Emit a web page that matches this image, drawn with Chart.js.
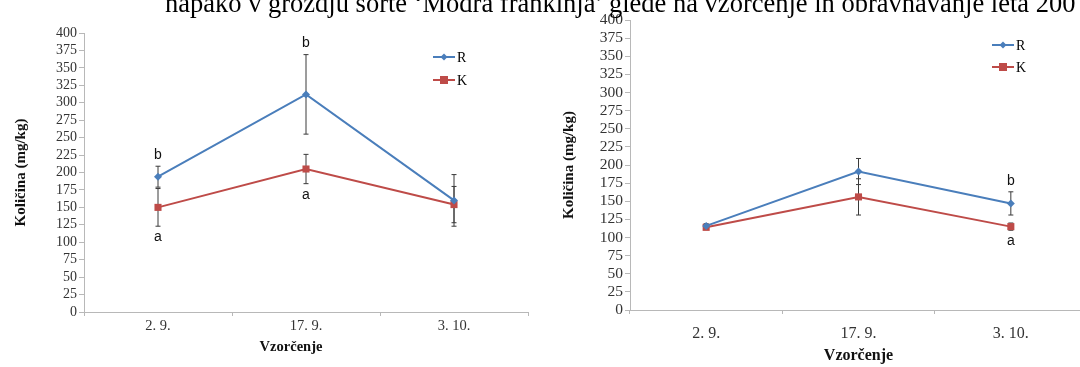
<!DOCTYPE html>
<html>
<head>
<meta charset="utf-8">
<script src="https://cdn.jsdelivr.net/npm/chart.js@4.4.1/dist/chart.umd.min.js"></script>
<style>
  html, body { margin: 0; padding: 0; background: #fff; }
  #wrap { position: relative; width: 1080px; height: 367px; overflow: hidden; background: #fff; }
  .panel { position: absolute; top: 0; height: 367px; overflow: hidden; }
  #panelA { left: 0; width: 540px; }
  #panelB { left: 540px; width: 540px; }
  #caption {
    position: absolute; left: 165px; top: -10px; z-index: 2;
    font-family: "Liberation Serif", "Times New Roman", serif;
    font-size: 26.5px; line-height: 26.5px; color: #000; white-space: nowrap;
  }
</style>
</head>
<body>
<div id="wrap">
  <div id="caption">napako v grozdju sorte ‘Modra frankinja’ glede na vzorčenje in obravnavanje leta 200</div>
  <div class="panel" id="panelA"><canvas id="chartA" width="540" height="367"></canvas></div>
  <div class="panel" id="panelB"><canvas id="chartB" width="552" height="367"></canvas></div>
</div>
<script>
// Sampling dates
const categories = ['2. 9.', '17. 9.', '3. 10.'];
const yTicks = { min: 0, max: 400, step: 25 };
const xAxisName = 'Vzorčenje';
const yAxisName = 'Količina (mg/kg)';

// Left panel: means, standard errors and significance letters
const rLeft = [194, 312, 160];
const kLeft = [150, 205, 154];
const rLeftErr = [15, 57, 37];
const kLeftErr = [27, 21, 26];
const rLeftLetters = ['b', 'b', ''];
const kLeftLetters = ['a', 'a', ''];

// Right panel
const rRight = [116, 191, 147];
const kRight = [114, 156, 115];
const rRightErr = [3, 18, 16];
const kRightErr = [3, 25, 5];
const rRightLetters = ['', '', 'b'];
const kRightLetters = ['', '', 'a'];

const BLUE = '#4a7ebb';
const RED = '#be4b48';
const SERIF = '"Liberation Serif", "Times New Roman", serif';
const AXIS = '#b8b8b8';

// Vertical error bars with caps, drawn beneath the lines and markers
const errorBars = {
  id: 'errorBars',
  beforeDatasetsDraw(chart) {
    const ctx = chart.ctx, y = chart.scales.y;
    ctx.save();
    ctx.strokeStyle = '#3a3a3a';
    ctx.lineWidth = 1;
    chart.data.datasets.forEach((ds, i) => {
      const meta = chart.getDatasetMeta(i);
      ds.errors.forEach((e, j) => {
        const x = meta.data[j].x;
        const top = y.getPixelForValue(ds.data[j] + e);
        const bot = y.getPixelForValue(ds.data[j] - e);
        ctx.beginPath();
        ctx.moveTo(x, top); ctx.lineTo(x, bot);
        ctx.moveTo(x - 2.5, top); ctx.lineTo(x + 2.5, top);
        ctx.moveTo(x - 2.5, bot); ctx.lineTo(x + 2.5, bot);
        ctx.stroke();
      });
    });
    ctx.restore();
  },
  // significance letters above (R) or below (K) the error bars
  afterDatasetsDraw(chart) {
    const ctx = chart.ctx, y = chart.scales.y;
    ctx.save();
    ctx.fillStyle = '#111';
    ctx.font = '14px "Liberation Sans", Arial, sans-serif';
    ctx.textAlign = 'center';
    ctx.textBaseline = 'middle';
    chart.data.datasets.forEach((ds, i) => {
      const meta = chart.getDatasetMeta(i);
      ds.letters.forEach((t, j) => {
        if (!t) return;
        const x = meta.data[j].x;
        if (ds.letterPos === 'above') {
          ctx.fillText(t, x, y.getPixelForValue(ds.data[j] + ds.errors[j]) - 11);
        } else {
          ctx.fillText(t, x, y.getPixelForValue(ds.data[j] - ds.errors[j]) + 11);
        }
      });
    });
    ctx.restore();
  }
};

// Bottom axis name, placed under the plot with a small horizontal shift
const axisName = {
  id: 'axisName',
  afterDraw(chart) {
    const o = chart.options.plugins.axisName;
    const a = chart.chartArea;
    const ctx = chart.ctx;
    ctx.save();
    ctx.fillStyle = '#111';
    ctx.font = 'bold ' + o.size + 'px ' + SERIF;
    ctx.textAlign = 'center';
    ctx.textBaseline = 'middle';
    ctx.fillText(o.text, (a.left + a.right) / 2 + o.dx, o.y);
    ctx.restore();
  }
};

// Legend entries as a short line with the series marker, then the name
const lineLegend = {
  id: 'lineLegend',
  afterDraw(chart) {
    const o = chart.options.plugins.lineLegend;
    const ctx = chart.ctx;
    ctx.save();
    chart.data.datasets.forEach((ds, i) => {
      const y = o.y + i * o.gap;
      ctx.strokeStyle = ds.borderColor;
      ctx.lineWidth = 2;
      ctx.beginPath();
      ctx.moveTo(o.x, y); ctx.lineTo(o.x + 22, y);
      ctx.stroke();
      ctx.fillStyle = ds.borderColor;
      const cx = o.x + 11;
      if (ds.pointStyle === 'rect') {
        ctx.fillRect(cx - 4, y - 4, 8, 8);
      } else {
        ctx.beginPath();
        ctx.moveTo(cx, y - 3.5); ctx.lineTo(cx + 3.5, y);
        ctx.lineTo(cx, y + 3.5); ctx.lineTo(cx - 3.5, y);
        ctx.closePath(); ctx.fill();
      }
      ctx.fillStyle = '#000';
      ctx.font = o.size + 'px ' + SERIF;
      ctx.textAlign = 'left';
      ctx.textBaseline = 'middle';
      ctx.fillText(ds.label, o.x + 24, y + 1);
    });
    ctx.restore();
  }
};

function makeChart(id, rVals, kVals, rErr, kErr, rLet, kLet, geo) {
  return new Chart(document.getElementById(id), {
    type: 'line',
    data: {
      labels: categories,
      datasets: [
        { label: 'R', data: rVals, errors: rErr, letters: rLet, letterPos: 'above',
          borderColor: BLUE, backgroundColor: BLUE, borderWidth: 2,
          pointStyle: 'rectRot', pointRadius: 4, pointBorderWidth: 0, tension: 0 },
        { label: 'K', data: kVals, errors: kErr, letters: kLet, letterPos: 'below',
          borderColor: RED, backgroundColor: RED, borderWidth: 2,
          pointStyle: 'rect', pointRadius: 5, pointBorderWidth: 0, tension: 0 }
      ]
    },
    options: {
      responsive: false,
      animation: false,
      devicePixelRatio: 1,
      layout: { padding: { left: 0, right: geo.padRight, top: geo.top, bottom: 0 } },
      plugins: {
        legend: { display: false },
        tooltip: { enabled: false },
        lineLegend: { x: geo.legendX, y: geo.legendY, gap: geo.legendGap, size: geo.legendSize },
        axisName: { text: xAxisName, size: geo.font, dx: geo.xNameDx, y: geo.xNameY }
      },
      scales: {
        x: {
          type: 'category',
          offset: true,
          grid: { display: true, drawOnChartArea: false, offset: true, tickLength: 4, color: AXIS },
          border: { color: AXIS, width: 1 },
          ticks: { color: '#333', font: { family: SERIF, size: geo.font }, padding: geo.xTickPad, maxRotation: 0 },
          title: { display: false },
          afterFit(s) { s.height = geo.xHeight; }
        },
        y: {
          min: yTicks.min, max: yTicks.max,
          grid: { display: true, drawOnChartArea: false, tickLength: 5, color: AXIS },
          border: { color: AXIS, width: 1 },
          ticks: { stepSize: yTicks.step, autoSkip: false, color: '#333',
                   font: { family: SERIF, size: geo.yFont }, padding: 2 },
          title: { display: true, text: yAxisName, color: '#111',
                   font: { family: SERIF, size: 15, weight: 'bold' }, padding: { top: geo.yTitlePad, bottom: 0 } },
          afterFit(s) { s.width = geo.yWidth; }
        }
      }
    },
    plugins: [errorBars, lineLegend, axisName]
  });
}

makeChart('chartA', rLeft, kLeft, rLeftErr, kLeftErr, rLeftLetters, kLeftLetters,
  { padRight: 12, top: 33, xHeight: 55, yWidth: 84, yTitlePad: 12, font: 14.5, yFont: 14,
    xTickPad: 1, xNameDx: -15, xNameY: 347,
    legendX: 433, legendY: 57, legendGap: 23, legendSize: 14 });

makeChart('chartB', rRight, kRight, rRightErr, kRightErr, rRightLetters, kRightLetters,
  { padRight: 3, top: 20, xHeight: 57, yWidth: 90, yTitlePad: 20, font: 16, yFont: 15.5,
    xTickPad: 10, xNameDx: 0, xNameY: 356,
    legendX: 452, legendY: 45, legendGap: 22, legendSize: 14 });
</script>
</body>
</html>
